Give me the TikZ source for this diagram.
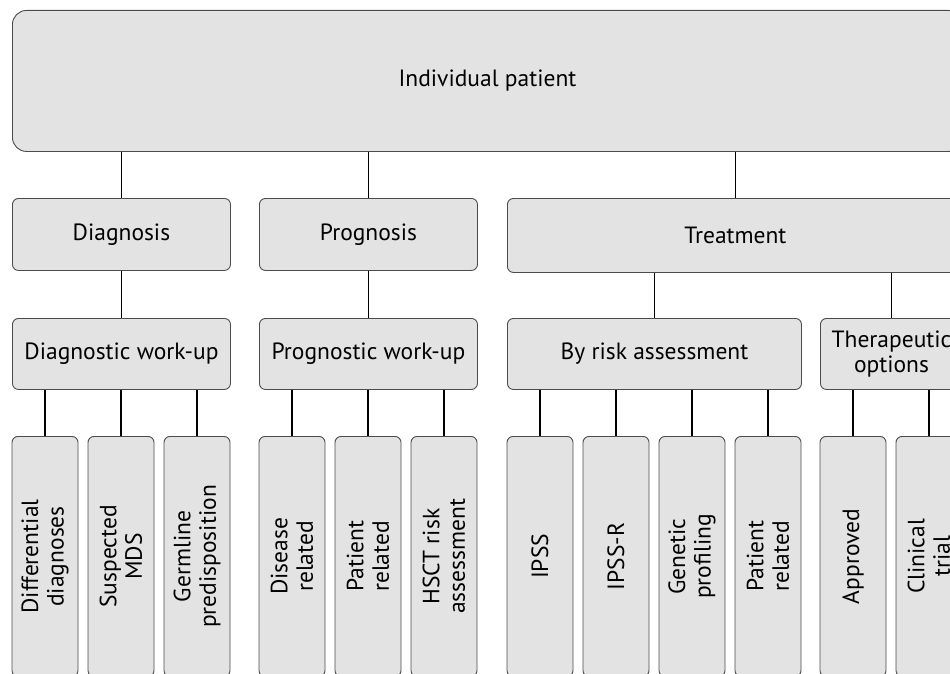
\documentclass[tikz,border=0pt]{standalone}
\usepackage{fontspec}
\setmainfont{PT Sans}

\begin{document}
\begin{tikzpicture}[x=1pt,y=-1pt,
	box/.style={draw=black!70, fill=black!11, rounded corners=6pt, line width=0.9pt,
		font=\fontsize{23.5}{25.5}\selectfont, align=center, inner sep=0pt, anchor=north west},
	leaf/.style={box, rotate=90, minimum width=240pt, minimum height=66pt, anchor=east},
	link/.style={draw=black, line width=1.2pt}]
	% page frame
	\clip (0,0) rectangle (950,674);
	
	% top box
	\node[box, rounded corners=14pt, minimum width=950pt, minimum height=141pt] (patient) at (12,10) {Individual patient};
	
	% second row
	\node[box, minimum width=218pt, minimum height=72pt] (diagnosis) at (12,198) {Diagnosis};
	\node[box, minimum width=218pt, minimum height=72pt] (prognosis) at (259,198) {Prognosis};
	\node[box, minimum width=456pt, minimum height=74pt] (treatment) at (507,198) {Treatment};
	
	% third row
	\node[box, minimum width=218pt, minimum height=71pt] (diagwork) at (12,318) {Diagnostic work-up};
	\node[box, minimum width=218pt, minimum height=71pt] (progwork) at (259,318) {Prognostic work-up};
	\node[box, minimum width=294pt, minimum height=71pt] (riskassess) at (507,318) {By risk assessment};
	\node[box, minimum width=142pt, minimum height=71pt] (theroptions) at (820,318) {Therapeutic\\options};
	
	% leaves
	\node[leaf] (differential) at (45,436) {Differential\\diagnoses};
	\node[leaf] (suspected) at (121,436) {Suspected\\MDS};
	\node[leaf] (germline) at (197,436) {Germline\\predisposition};
	\node[leaf] (disease) at (292,436) {Disease\\related};
	\node[leaf] (patrelA) at (368,436) {Patient\\related};
	\node[leaf] (hsct) at (444,436) {HSCT risk\\assessment};
	\node[leaf] (ipss) at (540,436) {IPSS};
	\node[leaf] (ipssr) at (616,436) {IPSS-R};
	\node[leaf] (genetic) at (692,436) {Genetic\\profiling};
	\node[leaf] (patrelB) at (768,436) {Patient\\related};
	\node[leaf] (approved) at (853,436) {Approved};
	\node[leaf] (clinical) at (929,436) {Clinical\\trial};
	
	% connectors
	\draw[link] (diagnosis.north) -- (diagnosis.north |- patient.south);
	\draw[link] (prognosis.north) -- (prognosis.north |- patient.south);
	\draw[link] (treatment.north) -- (treatment.north |- patient.south);
	
	\draw[link] (diagwork.north) -- (diagwork.north |- diagnosis.south);
	\draw[link] (progwork.north) -- (progwork.north |- prognosis.south);
	\draw[link] (riskassess.north) -- (riskassess.north |- treatment.south);
	\draw[link] (theroptions.north) -- (theroptions.north |- treatment.south);
	
	\draw[link] (differential.east) -- (differential.east |- diagwork.south);
	\draw[link] (suspected.east) -- (suspected.east |- diagwork.south);
	\draw[link] (germline.east) -- (germline.east |- diagwork.south);
	\draw[link] (disease.east) -- (disease.east |- progwork.south);
	\draw[link] (patrelA.east) -- (patrelA.east |- progwork.south);
	\draw[link] (hsct.east) -- (hsct.east |- progwork.south);
	\draw[link] (ipss.east) -- (ipss.east |- riskassess.south);
	\draw[link] (ipssr.east) -- (ipssr.east |- riskassess.south);
	\draw[link] (genetic.east) -- (genetic.east |- riskassess.south);
	\draw[link] (patrelB.east) -- (patrelB.east |- riskassess.south);
	\draw[link] (approved.east) -- (approved.east |- theroptions.south);
	\draw[link] (clinical.east) -- (clinical.east |- theroptions.south);
\end{tikzpicture}
\end{document}
